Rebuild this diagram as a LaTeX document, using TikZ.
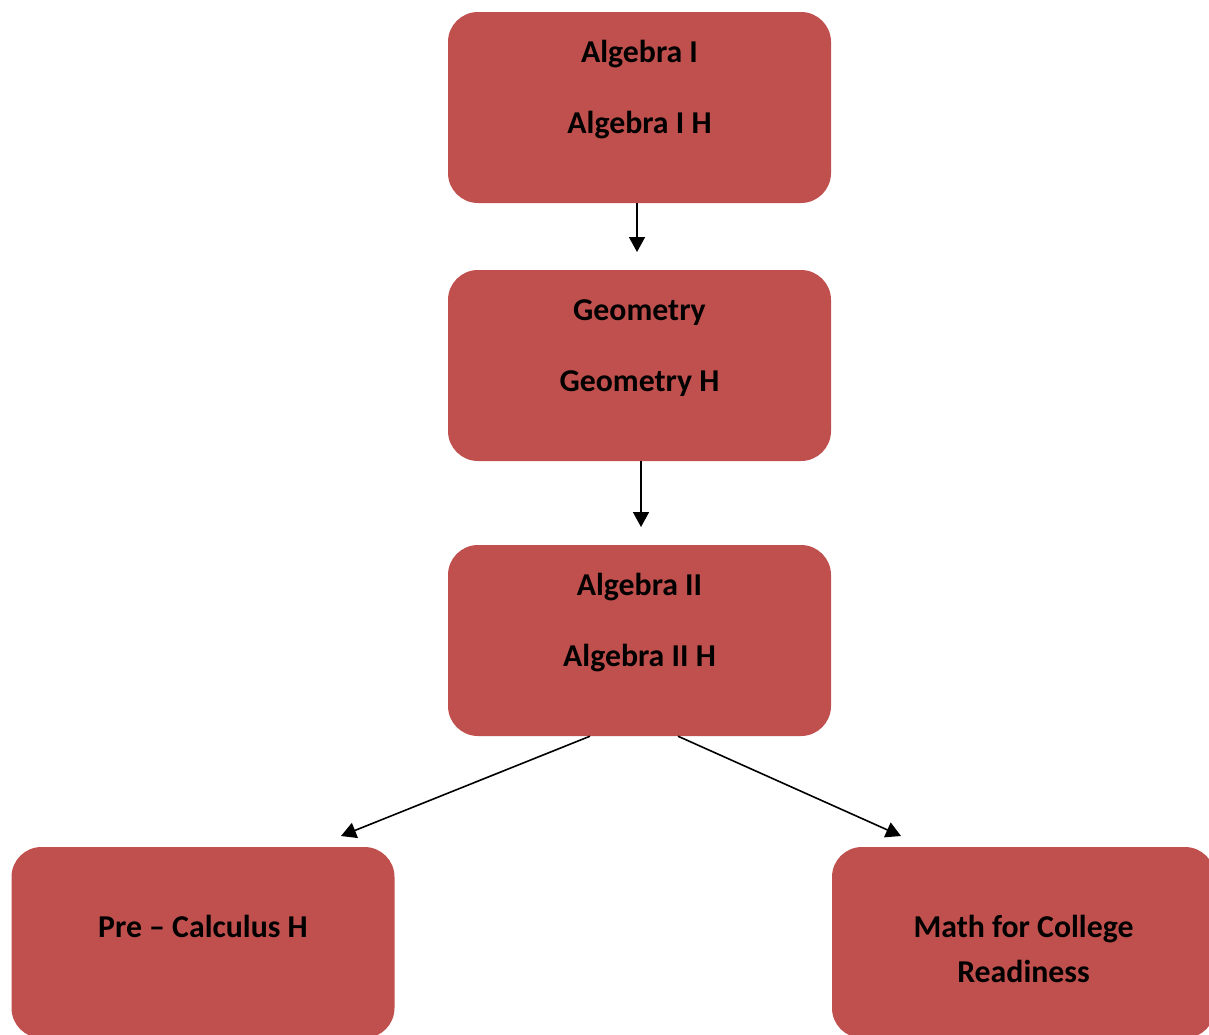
\documentclass[tikz,border=0pt]{standalone}
\usepackage{fontspec}
\setmainfont{Carlito}
\usetikzlibrary{arrows.meta}
\definecolor{boxred}{HTML}{C0504D}
\begin{document}
\begin{tikzpicture}[x=1pt, y=-1pt, line join=round, >={Triangle[width=16pt,length=15pt]},
  course/.style={fill=boxred, rounded corners=30pt, minimum width=383pt, minimum height=191pt, inner sep=0pt},
  coursename/.style={anchor=base, inner sep=0pt, font=\bfseries\fontsize{31.8}{38}\selectfont},
  link/.style={->, line width=1.6pt}]
  \useasboundingbox (0,0) rectangle (1209,1034);
  \clip (0,0) rectangle (1209,1034);
  % course boxes
  \node[course] (alg1) at (639.5,107.5) {};
  \node[course] (geo) at (639.5,365.5) {};
  \node[course] (alg2) at (639.5,640.5) {};
  \node[course] (precalc) at (203,942.5) {};
  \node[course] (mcr) at (1023.5,942.5) {};
  % course names
  \path (alg1.north) ++(0,51) node[coursename]{Algebra I} ++(0,71) node[coursename]{Algebra I H};
  \path (geo.north) ++(0,51) node[coursename]{Geometry} ++(0,71) node[coursename]{Geometry H};
  \path (alg2.north) ++(0,51) node[coursename]{Algebra II} ++(0,71) node[coursename]{Algebra II H};
  \path (precalc.north) ++(0,91) node[coursename]{Pre -- Calculus H};
  \path (mcr.north) ++(0,91) node[coursename]{Math for College} ++(0,45) node[coursename]{Readiness};
  % arrow ends
  \coordinate (e1) at (637,252);
  \coordinate (e2) at (641,527);
  \coordinate (e3) at (341,836);
  \coordinate (e4) at (901,836);
  \draw[link] ([xshift=-2.5pt]alg1.south) -- (e1);
  \draw[link] ([xshift=1.5pt]geo.south) -- (e2);
  \draw[link] ([xshift=-49.5pt]alg2.south) -- (e3);
  \draw[link] ([xshift=38.5pt]alg2.south) -- (e4);
\end{tikzpicture}
\end{document}
